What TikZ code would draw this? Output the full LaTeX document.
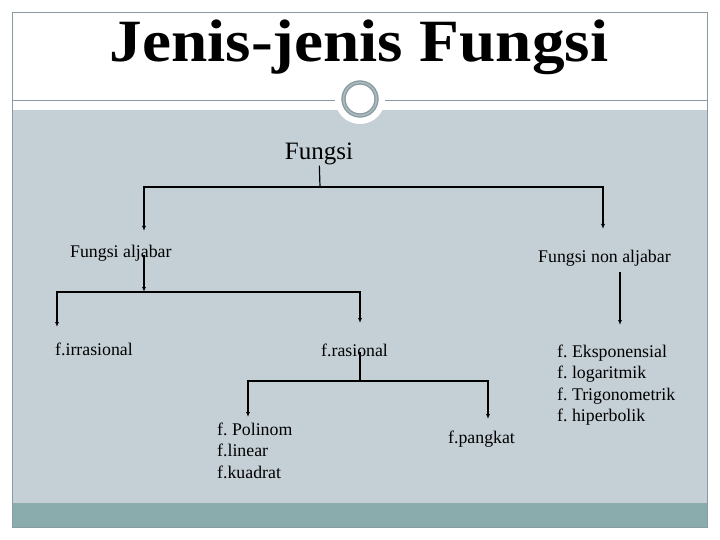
\documentclass[tikz,border=0pt]{standalone}
\usepackage{graphicx}
\usepackage{fontspec}
\setmainfont{Liberation Serif}
\usetikzlibrary{arrows.meta}
\definecolor{slidegrey}{HTML}{C5D0D6}
\definecolor{slideteal}{HTML}{8AACAC}
\definecolor{framegrey}{HTML}{8A9CA2}
\frenchspacing
\tikzset{
  lbl/.style={inner sep=0pt, font=\fontsize{17.8}{21.5}\selectfont, align=left},
  branch/.style={line width=1.2pt},
  drop/.style={line width=1.4pt, -{Latex[length=5pt,width=4pt]}},
}
\begin{document}
\begin{tikzpicture}[x=1pt,y=-1pt]
    \useasboundingbox (0,0) rectangle (720,540);
    % slide background
    \fill[white] (0,0) rectangle (720,540);
    \fill[slidegrey] (12,110) rectangle (707,503);
    \fill[slideteal] (12,503) rectangle (707,527);
    \draw[framegrey] (12,12) rectangle (707,527);
    \draw[framegrey] (12,100) -- (707,100);
    \fill[white] (360,99) circle (25);
    \draw[framegrey!70, line width=4pt] (360,99) circle (16.5);
    \draw[framegrey, line width=1.2pt] (360,99) circle (18);
    \draw[framegrey, line width=1.2pt] (360,99) circle (15);
    % title
    \node[inner sep=0pt, anchor=base] (title) at (359,62)
        {\scalebox{1.087}[1]{\fontsize{60}{64}\selectfont\bfseries Jenis-jenis Fungsi}};
    % tree
    \node[lbl, font=\fontsize{25}{30}\selectfont, anchor=base] (fungsi) at (319,160) {Fungsi};
    \node[lbl, anchor=base west] (aljabar) at (70,258) {Fungsi aljabar};
    \node[lbl, anchor=base west] (nonaljabar) at (538,262) {Fungsi non aljabar};
    \node[lbl, anchor=base west] (irrasional) at (55,355) {f.irrasional};
    \node[lbl, anchor=base west] (rasional) at (321,356) {f.rasional};
    \node[lbl, anchor=base west] (polinom) at (217,478) {f. Polinom\\f.linear\\f.kuadrat};
    \node[lbl, anchor=base west] (pangkat) at (448,443) {f.pangkat};
    \node[lbl, anchor=base west] (transenden) at (557,421.5)
        {f. Eksponensial\\f. logaritmik\\f. Trigonometrik\\f. hiperbolik};
    % junctions and arrow ends
    \coordinate (j1) at (320,187);
    \coordinate (a1) at (144,231);
    \coordinate (n1) at (603,229);
    \coordinate (a2) at (144,255);
    \coordinate (j2) at (144,292);
    \coordinate (i1) at (57,327);
    \coordinate (r0) at (360,323);
    \coordinate (r1) at (360,352);
    \coordinate (j3) at (360,381);
    \coordinate (p1) at (248,417);
    \coordinate (k1) at (488,419);
    \coordinate (n2) at (620,272);
    \coordinate (n3) at (620,325);
    \draw[branch] (fungsi) -- (j1);
    \draw[drop] (j1) -| (a1);
    \draw[drop] (j1) -| (n1);
    \draw[drop] (a2) -- (j2);
    \draw[drop] (j2) -| (i1);
    \draw[drop] (j2) -| (r0);
    \draw[branch] (r1) -- (j3);
    \draw[drop] (j3) -| (p1);
    \draw[drop] (j3) -| (k1);
    \draw[drop] (n2) -- (n3);
\end{tikzpicture}
\end{document}
